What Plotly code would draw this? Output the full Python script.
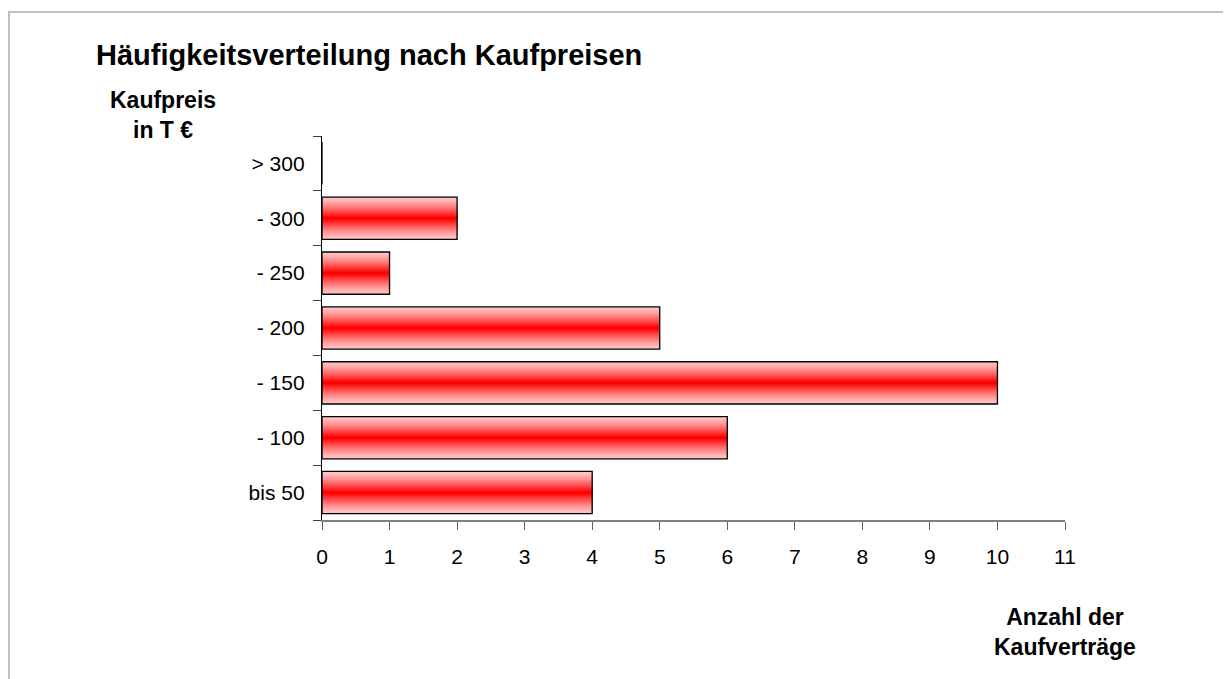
import plotly.graph_objects as go

categories = ["bis 50", "- 100", "- 150", "- 200", "- 250", "- 300", "> 300"]
counts = [4, 6, 10, 5, 1, 2, 0]
x_ticks = list(range(0, 12))

title_text = "Häufigkeitsverteilung nach Kaufpreisen"
y_title = "Kaufpreis<br>in T €"
x_title = "Anzahl der<br>Kaufverträge"

OFF = 8  # page body margin
W, H = 1231 - OFF, 679 - OFF
L, R, T, B = 322 - OFF, 1231 - 1065, 136 - OFF, 679 - 520
pw, ph = W - L - R, H - T - B

def px_x(x):
    return (x - OFF - L) / pw

def px_y(y):
    return 1 - (y - OFF - T) / ph

fig = go.Figure()

bar_w = 0.77
N = 18
edge = (255, 196, 196)
core = (255, 0, 0)
for i in range(N):
    t = (i / (N - 1)) ** 1.3
    c = tuple(round(edge[k] * (1 - t) + core[k] * t) for k in range(3))
    w = bar_w * (1 - i / N)
    fig.add_trace(go.Bar(
        y=categories, x=counts, orientation="h", width=w,
        marker=dict(color="rgb(%d,%d,%d)" % c, line=dict(width=0)),
        showlegend=False, hoverinfo="skip",
    ))

fig.add_trace(go.Bar(
    y=categories, x=counts, orientation="h", width=bar_w,
    marker=dict(color="rgba(0,0,0,0)", line=dict(color="black", width=1.3)),
    showlegend=False,
))

fig.update_layout(
    width=W, height=H,
    barmode="overlay",
    margin=dict(l=L, r=R, t=T, b=B),
    paper_bgcolor="white", plot_bgcolor="white",
    font=dict(family="Liberation Sans, Arial, sans-serif", size=21, color="black"),
    xaxis=dict(
        range=[0, 11], tickvals=x_ticks, ticktext=[str(v) for v in x_ticks],
        showgrid=False, zeroline=False,
        showline=True, linecolor="#808080", linewidth=1.5,
        ticks="outside", ticklen=8, tickcolor="#606060", tickwidth=1.3,
        tickfont=dict(size=21), ticklabelstandoff=9,
    ),
    yaxis=dict(
        type="category", categoryorder="array", categoryarray=categories,
        range=[-0.5, 6.5], tickson="boundaries",
        showgrid=False, zeroline=False,
        showline=True, linecolor="black", linewidth=1.3,
        ticks="outside", ticklen=8, tickcolor="#404040", tickwidth=1.3,
        tickfont=dict(size=21), ticklabelstandoff=12,
    ),
)

fig.add_annotation(text="<b>" + title_text + "</b>", xref="paper", yref="paper",
                   x=px_x(94), y=px_y(55), xanchor="left", yanchor="middle",
                   showarrow=False, font=dict(size=29))
fig.add_annotation(text="<b>" + y_title + "</b>", xref="paper", yref="paper",
                   x=px_x(163), y=px_y(115), xanchor="center", yanchor="middle",
                   showarrow=False, font=dict(size=23), align="center")
fig.add_annotation(text="<b>" + x_title + "</b>", xref="paper", yref="paper",
                   x=px_x(1065), y=px_y(632), xanchor="center", yanchor="middle",
                   showarrow=False, font=dict(size=23), align="center")

fig.add_shape(type="path", xref="paper", yref="paper",
              path="M %f %f L %f %f L %f %f" % (px_x(9), px_y(700), px_x(9), px_y(12), px_x(1250), px_y(12)),
              line=dict(color="#C0C0C0", width=2))

fig.write_html("out.html")
